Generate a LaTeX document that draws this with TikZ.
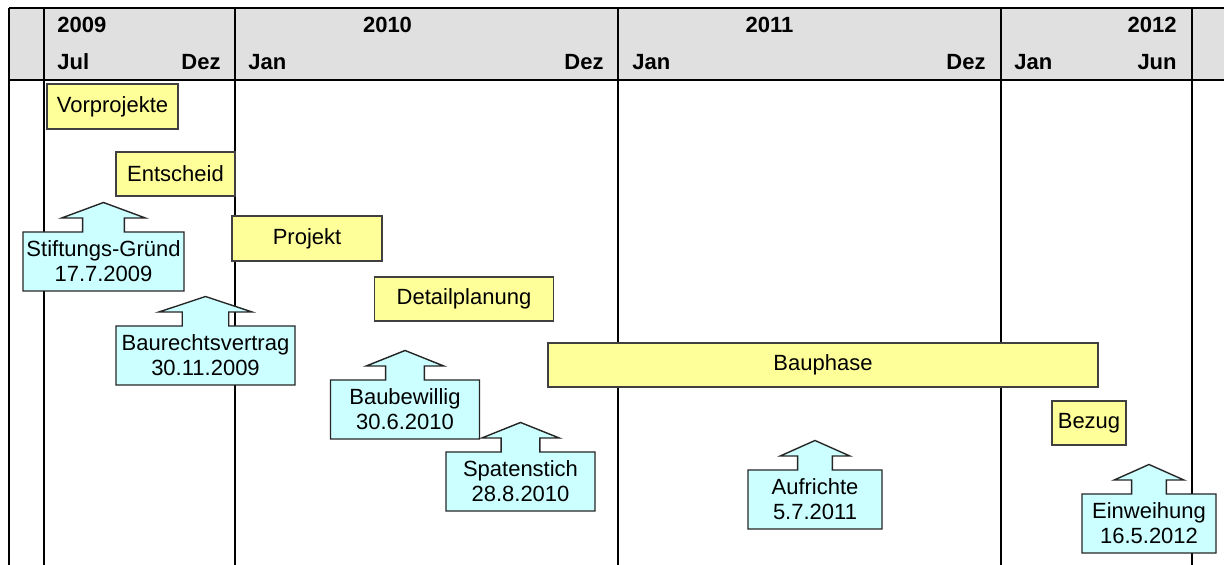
\documentclass[tikz,border=0pt]{standalone}
\usepackage{fontspec}
\setmainfont{Liberation Sans}
\usetikzlibrary{positioning, calc}
\definecolor{kopfgrau}{HTML}{E0E0E0}
\definecolor{phasengelb}{HTML}{FFFF99}
\definecolor{termincyan}{HTML}{CCFFFF}

\begin{document}
\begin{tikzpicture}[x=0.5pt, y=-0.5pt, font=\fontsize{11}{12.5}\selectfont,
        gitter/.style={line width=1pt},
        kopf/.style={font=\fontsize{11}{12.5}\selectfont\bfseries, inner sep=0pt},
        phase/.style={draw=black!75, line width=0.6pt, fill=phasengelb, inner sep=0pt},
        termin/.style={draw=black!85, line width=0.7pt, fill=termincyan},
        termintext/.style={align=center, inner sep=0pt}]
    \useasboundingbox (0,0) rectangle (1224,565);
    % Kopfzeile mit Jahren und Monaten
    \fill[kopfgrau] (9,8) rectangle (1224,80);
    \draw[gitter] (9,8) -- (1224,8) (9,80) -- (1224,80);
    \foreach \x in {9,44,235,618,1001,1192}
        \draw[gitter] (\x,8) -- (\x,565);
    \node[kopf, anchor=base west] (jahr2009) at (57,33) {2009};
    \node[kopf, anchor=base] (jahr2010) at (387.5,33) {2010};
    \node[kopf, anchor=base] (jahr2011) at (769.5,33) {2011};
    \node[kopf, anchor=base east] (jahr2012) at (1177,33) {2012};
    \node[kopf, anchor=base west] (jul09) at (57,70) {Jul};
    \node[kopf, anchor=base east] (dez09) at (221,70) {Dez};
    \node[kopf, anchor=base west] (jan10) at (248,70) {Jan};
    \node[kopf, anchor=base east] (dez10) at (604,70) {Dez};
    \node[kopf, anchor=base west] (jan11) at (632,70) {Jan};
    \node[kopf, anchor=base east] (dez11) at (986,70) {Dez};
    \node[kopf, anchor=base west] (jan12) at (1014,70) {Jan};
    \node[kopf, anchor=base east] (jun12) at (1177,70) {Jun};
    % Phasen
    \node[phase, minimum width=65.5pt, minimum height=22.5pt] (vorprojekte) at (112.5,106.5) {Vorprojekte};
    \node[phase, minimum width=59.5pt, minimum height=22pt] (entscheid) at (175.5,174) {Entscheid};
    \node[phase, minimum width=75pt, minimum height=22.5pt] (projekt) at (307,238.5) {Projekt};
    \node[phase, minimum width=89.5pt, minimum height=22pt] (detailplanung) at (464,299) {Detailplanung};
    \node[phase, minimum width=275pt, minimum height=22pt] (bauphase) at (823,365) {Bauphase};
    \node[phase, minimum width=37pt, minimum height=22pt] (bezug) at (1089,423) {Bezug};
    % Termine
    \foreach \name/\cx/\top/\w/\txt in {
            stiftung/103.5/232/161/{Stiftungs-Gründ\\17.7.2009},
            baurecht/205.5/326/179/{Baurechtsvertrag\\30.11.2009},
            baubewilligung/405/380/149/{Baubewillig\\30.6.2010},
            spatenstich/520.5/452/149/{Spatenstich\\28.8.2010},
            aufrichte/815/470/134/{Aufrichte\\5.7.2011},
            einweihung/1149/494/134/{Einweihung\\16.5.2012}}
    {
        \draw[termin] (\cx-\w/2,\top+59) -- (\cx-\w/2,\top) -- (\cx-0.13*\w,\top) -- (\cx-0.13*\w,\top-14)
            -- (\cx-0.26*\w,\top-14) -- (\cx,\top-29.5) -- (\cx+0.26*\w,\top-14) -- (\cx+0.13*\w,\top-14)
            -- (\cx+0.13*\w,\top) -- (\cx+\w/2,\top) -- (\cx+\w/2,\top+59) -- cycle;
        \node[termintext] (\name) at (\cx,\top+29.5) {\txt};
    }
\end{tikzpicture}
\end{document}
